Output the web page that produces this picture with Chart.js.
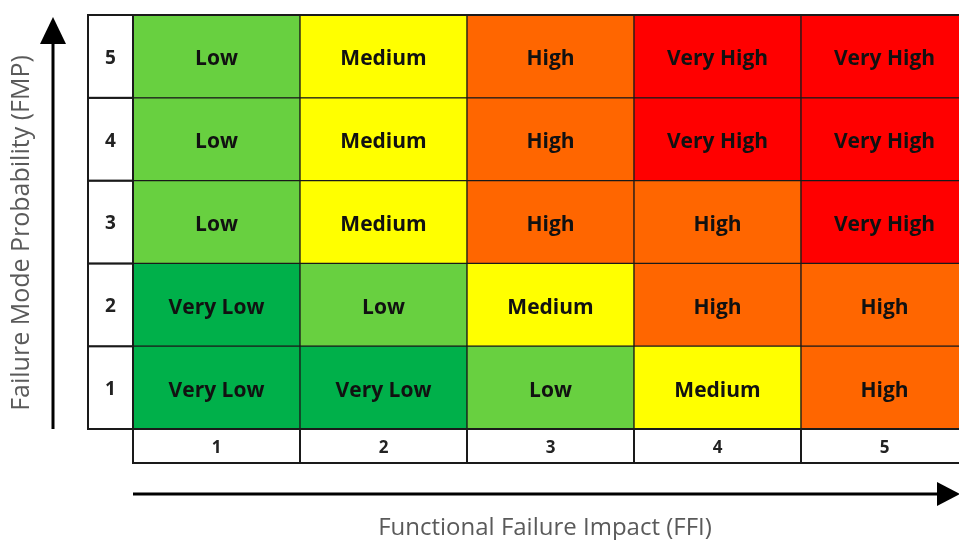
<!DOCTYPE html>
<html>
<head>
<meta charset="utf-8">
<script src="https://cdn.jsdelivr.net/npm/chart.js@4.4.1/dist/chart.umd.min.js"></script>
<style>
  html, body { margin: 0; padding: 0; background: #ffffff; overflow: hidden; }
  #wrap { width: 975px; height: 540px; }
</style>
</head>
<body>
<div id="wrap"><canvas id="risk" width="975" height="540"></canvas></div>
<script>
// Functional Failure Impact (columns) and Failure Mode Probability (rows)
const impactLabels = ['1', '2', '3', '4', '5'];
const probabilityLabels = ['1', '2', '3', '4', '5'];

// Risk level for each cell, one list per probability row (bottom to top)
const riskRow1 = ['Very Low', 'Very Low', 'Low', 'Medium', 'High'];
const riskRow2 = ['Very Low', 'Low', 'Medium', 'High', 'High'];
const riskRow3 = ['Low', 'Medium', 'High', 'High', 'Very High'];
const riskRow4 = ['Low', 'Medium', 'High', 'Very High', 'Very High'];
const riskRow5 = ['Low', 'Medium', 'High', 'Very High', 'Very High'];
const riskRows = [riskRow1, riskRow2, riskRow3, riskRow4, riskRow5];

const riskLevels = ['Very Low', 'Low', 'Medium', 'High', 'Very High'];
const levelColors = ['#00b04a', '#68d040', '#ffff00', '#ff6600', '#ff0000'];

const axisTitleX = 'Functional Failure Impact (FFI)';
const axisTitleY = 'Failure Mode Probability (FMP)';

const colorFor = level => levelColors[riskLevels.indexOf(level)];

// each probability row is a set of floating bars spanning [row-1, row]
const datasets = probabilityLabels.map((p, i) => ({
  label: 'FMP ' + p,
  data: impactLabels.map(() => [i, i + 1]),
  riskText: riskRows[i],
  backgroundColor: riskRows[i].map(colorFor),
  borderColor: '#1a1a1a',
  borderWidth: 1,
  borderSkipped: false,
  grouped: false,
  categoryPercentage: 1,
  barPercentage: 1
}));

const LINE = '#1a1a1a';
const TEXT_FONT = '"Open Sans", "DejaVu Sans", sans-serif';

const matrixDecor = {
  id: 'matrixDecor',
  afterDatasetsDraw(chart) {
    const { ctx, chartArea: ca, scales } = chart;
    const xs = scales.x, ys = scales.y;
    const colW = (ca.right - ca.left) / impactLabels.length;
    const labelColW = 45;
    const labelRowH = 34;

    ctx.save();
    ctx.textAlign = 'center';
    ctx.textBaseline = 'middle';

    // risk level text in each cell
    ctx.fillStyle = '#111111';
    ctx.font = 'bold 21px ' + TEXT_FONT;
    chart.data.datasets.forEach((ds, di) => {
      chart.getDatasetMeta(di).data.forEach((bar, j) => {
        const cy = (bar.y + bar.base) / 2;
        ctx.fillText(ds.riskText[j], bar.x, cy + 3);
      });
    });

    // probability label column on the left
    ctx.strokeStyle = LINE;
    ctx.lineWidth = 2;
    probabilityLabels.forEach((p, i) => {
      const top = ys.getPixelForValue(i + 1);
      const bottom = ys.getPixelForValue(i);
      ctx.fillStyle = '#ffffff';
      ctx.fillRect(ca.left - labelColW, top, labelColW, bottom - top);
      ctx.strokeRect(ca.left - labelColW, top, labelColW, bottom - top);
      ctx.fillStyle = '#222222';
      ctx.font = 'bold 19px ' + TEXT_FONT;
      ctx.fillText(p, ca.left - labelColW / 2, (top + bottom) / 2 + 2);
    });

    // impact label row underneath
    impactLabels.forEach((lab, j) => {
      const cx = xs.getPixelForValue(j);
      const left = cx - colW / 2;
      ctx.strokeRect(left, ca.bottom, colW, labelRowH);
      ctx.fillStyle = '#222222';
      ctx.font = 'bold 17px ' + TEXT_FONT;
      ctx.fillText(lab, cx, ca.bottom + labelRowH / 2 + 2);
    });

    // outer frame of the matrix
    ctx.strokeRect(ca.left - labelColW, ca.top, ca.right - ca.left + labelColW, ca.bottom - ca.top);

    // vertical arrow (probability increases upward)
    const ax = 53;
    ctx.strokeStyle = '#000000';
    ctx.fillStyle = '#000000';
    ctx.lineWidth = 3;
    ctx.beginPath();
    ctx.moveTo(ax, ca.bottom);
    ctx.lineTo(ax, 40);
    ctx.stroke();
    ctx.beginPath();
    ctx.moveTo(ax, 17);
    ctx.lineTo(ax - 13, 44);
    ctx.lineTo(ax + 13, 44);
    ctx.closePath();
    ctx.fill();

    // horizontal arrow (impact increases to the right)
    const ay = 494;
    ctx.beginPath();
    ctx.moveTo(ca.left, ay);
    ctx.lineTo(942, ay);
    ctx.stroke();
    ctx.beginPath();
    ctx.moveTo(960, ay);
    ctx.lineTo(937, ay - 12);
    ctx.lineTo(937, ay + 12);
    ctx.closePath();
    ctx.fill();

    // axis titles
    ctx.fillStyle = '#5a5a5a';
    ctx.textBaseline = 'alphabetic';
    ctx.font = '24px ' + TEXT_FONT;
    ctx.fillText(axisTitleX, 545, 535);

    ctx.font = '25px ' + TEXT_FONT;
    ctx.translate(29, 233);
    ctx.rotate(-Math.PI / 2);
    ctx.fillText(axisTitleY, 0, 0);
    ctx.restore();
  }
};

new Chart(document.getElementById('risk'), {
  type: 'bar',
  data: { labels: impactLabels, datasets },
  options: {
    responsive: false,
    animation: false,
    layout: { padding: { left: 133, top: 15, right: 7, bottom: 111 } },
    scales: {
      x: { display: false, offset: true },
      y: { display: false, min: 0, max: probabilityLabels.length }
    },
    plugins: {
      legend: { display: false },
      tooltip: { enabled: false }
    }
  },
  plugins: [matrixDecor]
});
</script>
</body>
</html>
